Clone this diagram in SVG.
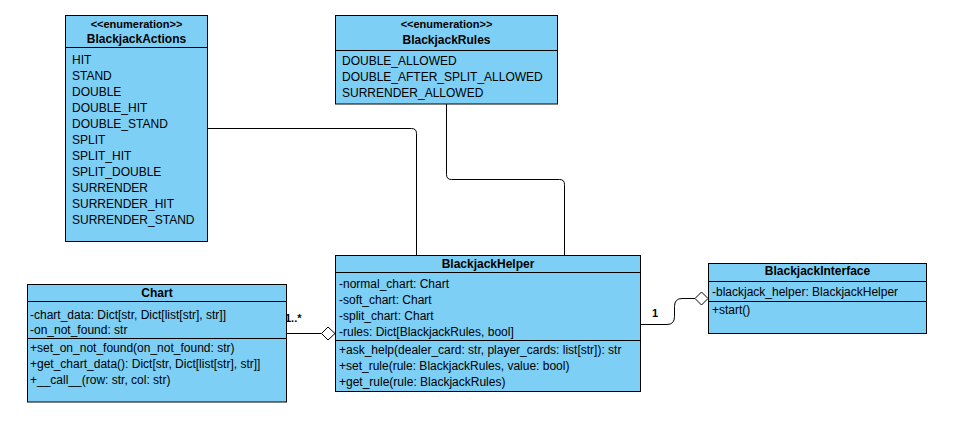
<svg xmlns="http://www.w3.org/2000/svg" width="953" height="426" viewBox="0 0 953 426">
<style>
.box{fill:#7DCFF5;stroke:#000;stroke-width:1}
.ln{stroke:#000;stroke-width:1;fill:none}
.t{font-family:"Liberation Sans",Arial,sans-serif;font-size:12px;fill:#000}
.h{font-family:"Liberation Sans",Arial,sans-serif;font-size:12px;font-weight:bold;fill:#000;text-anchor:middle}
.s{font-family:"Liberation Sans",Arial,sans-serif;font-size:11px;font-weight:bold;fill:#000;text-anchor:middle}
.c{stroke:#000;stroke-width:1;fill:none}
.dia{fill:#fff;stroke:#000;stroke-width:1}
</style>
<rect width="953" height="426" fill="#fff"/>
<g id="connectors">
<path class="c" d="M207,128.5 L411.5,128.5 Q416.5,128.5 416.5,133.5 L416.5,255"/>
<path class="c" d="M446.5,104 L446.5,174.5 Q446.5,179.5 451.5,179.5 L559.5,179.5 Q564.5,179.5 564.5,184.5 L564.5,255"/>
<path class="c" d="M286.5,333.5 L321.5,333.5"/>
<polygon class="dia" points="335,333.5 328,327 321.5,333.5 328,340"/>
<text class="t" x="285" y="322" font-size="11" style="font-size:11px;font-weight:bold">1..*</text>
<path class="c" d="M640,324.5 L667,324.5 Q674.5,324.5 674.5,316.5 L674.5,306.5 Q674.5,298.5 682,298.5 L695,298.5"/>
<polygon class="dia" points="708,298.5 701.5,292 695,298.5 701.5,305"/>
<text class="t" x="652" y="317" style="font-size:11px;font-weight:bold">1</text>
</g>
<g id="BlackjackActions">
<rect class="box" x="65.5" y="15.5" width="142" height="226"/>
<line class="ln" x1="65.5" y1="47.5" x2="207.5" y2="47.5"/>
<text class="s" x="136.5" y="27.5">&lt;&lt;enumeration&gt;&gt;</text>
<text class="h" x="136.5" y="42.5">BlackjackActions</text>
<text class="t" x="72" y="63.5">HIT</text>
<text class="t" x="72" y="79.5">STAND</text>
<text class="t" x="72" y="95.5">DOUBLE</text>
<text class="t" x="72" y="111.5">DOUBLE_HIT</text>
<text class="t" x="72" y="127.5">DOUBLE_STAND</text>
<text class="t" x="72" y="143.5">SPLIT</text>
<text class="t" x="72" y="159.5">SPLIT_HIT</text>
<text class="t" x="72" y="175.5">SPLIT_DOUBLE</text>
<text class="t" x="72" y="191.5">SURRENDER</text>
<text class="t" x="72" y="207.5">SURRENDER_HIT</text>
<text class="t" x="72" y="223.5">SURRENDER_STAND</text>
</g>
<g id="BlackjackRules">
<rect class="box" x="335.5" y="15.5" width="222" height="88.5"/>
<line class="ln" x1="335.5" y1="50.5" x2="557.5" y2="50.5"/>
<text class="s" x="446.5" y="27.5">&lt;&lt;enumeration&gt;&gt;</text>
<text class="h" x="446.5" y="43.5">BlackjackRules</text>
<text class="t" x="342" y="64.5">DOUBLE_ALLOWED</text>
<text class="t" x="342" y="80.5">DOUBLE_AFTER_SPLIT_ALLOWED</text>
<text class="t" x="342" y="96.5">SURRENDER_ALLOWED</text>
</g>
<g id="BlackjackHelper">
<rect class="box" x="335.5" y="255.5" width="305" height="136"/>
<line class="ln" x1="335.5" y1="272.5" x2="640.5" y2="272.5"/>
<line class="ln" x1="335.5" y1="340.5" x2="640.5" y2="340.5"/>
<text class="h" x="488" y="267.5">BlackjackHelper</text>
<text class="t" x="339" y="287.5">-normal_chart: Chart</text>
<text class="t" x="339" y="303.5">-soft_chart: Chart</text>
<text class="t" x="339" y="319.5">-split_chart: Chart</text>
<text class="t" x="339" y="335.5">-rules: Dict[BlackjackRules, bool]</text>
<text class="t" x="339" y="353.5">+ask_help(dealer_card: str, player_cards: list[str]): str</text>
<text class="t" x="339" y="369.5">+set_rule(rule: BlackjackRules, value: bool)</text>
<text class="t" x="339" y="385.5">+get_rule(rule: BlackjackRules)</text>
</g>
<g id="Chart">
<rect class="box" x="27.5" y="284.5" width="259" height="117.5"/>
<line class="ln" x1="27.5" y1="301.5" x2="286.5" y2="301.5"/>
<line class="ln" x1="27.5" y1="338.5" x2="286.5" y2="338.5"/>
<text class="h" x="157" y="296.5">Chart</text>
<text class="t" x="30" y="318.5">-chart_data: Dict[str, Dict[list[str], str]]</text>
<text class="t" x="30" y="334">-on_not_found: str</text>
<text class="t" x="30" y="352">+set_on_not_found(on_not_found: str)</text>
<text class="t" x="30" y="368">+get_chart_data(): Dict[str, Dict[list[str], str]]</text>
<text class="t" x="30" y="384">+__call__(row: str, col: str)</text>
</g>
<g id="BlackjackInterface">
<rect class="box" x="708.5" y="263.5" width="218" height="70"/>
<line class="ln" x1="708.5" y1="281.5" x2="926.5" y2="281.5"/>
<line class="ln" x1="708.5" y1="301.5" x2="926.5" y2="301.5"/>
<text class="h" x="817.5" y="275">BlackjackInterface</text>
<text class="t" x="712" y="296">-blackjack_helper: BlackjackHelper</text>
<text class="t" x="712" y="314">+start()</text>
</g>
</svg>
